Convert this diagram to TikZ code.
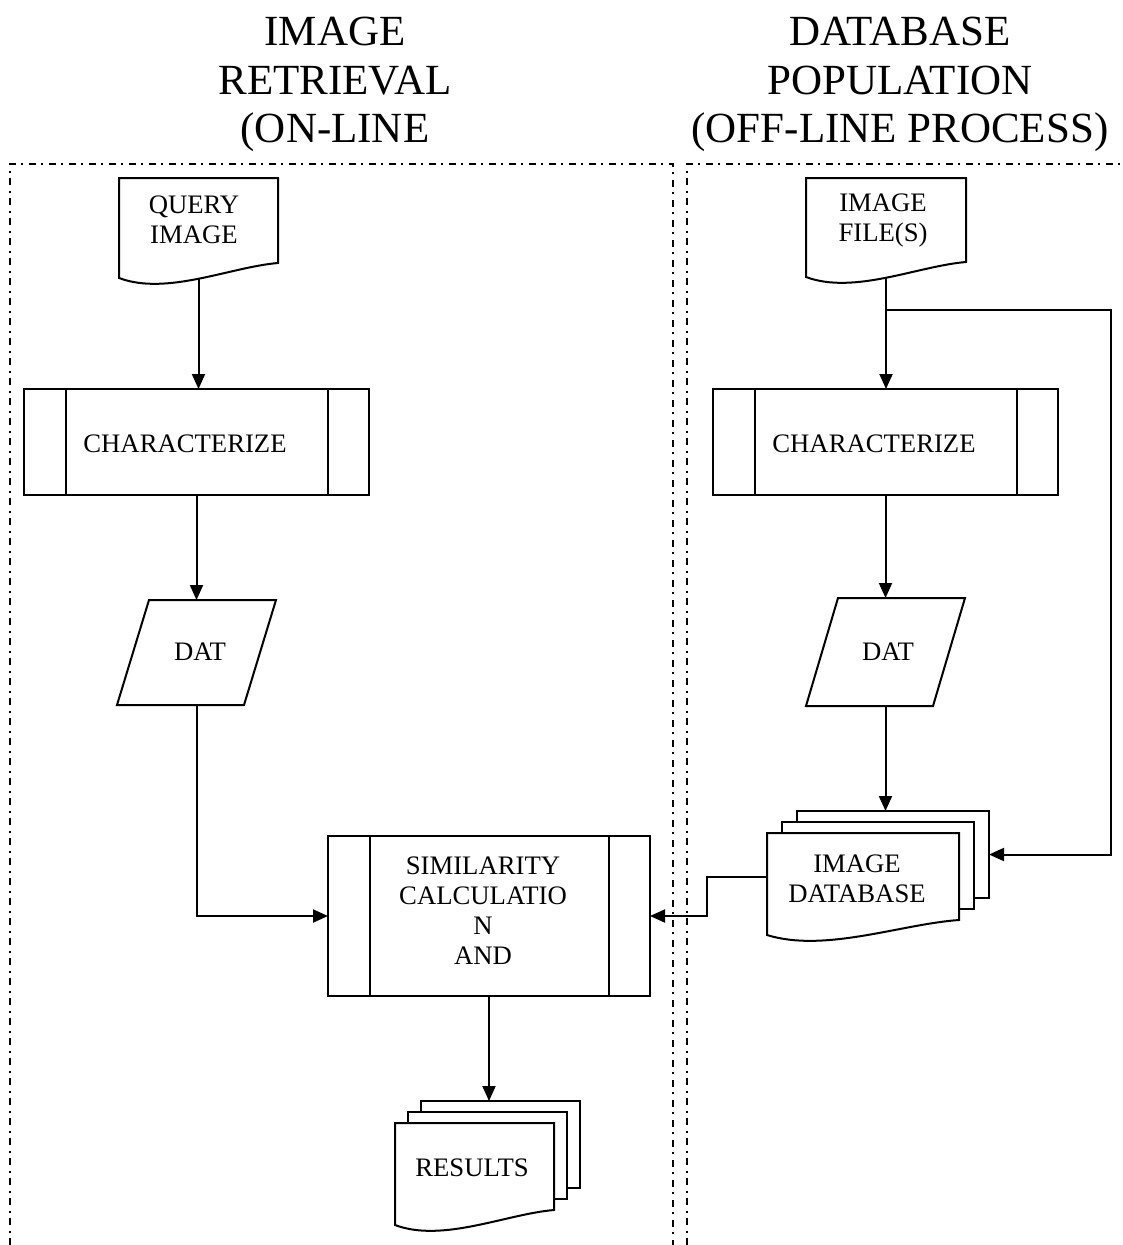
\documentclass[tikz,border=0pt]{standalone}
\usepackage{fontspec}
\setmainfont{Liberation Serif}
\usetikzlibrary{calc,arrows.meta}

\tikzset{
  flow/.style={line width=2pt},
  arr/.style={flow, -{Triangle[length=15pt,width=13pt]}},
  area/.style={line width=1.5pt, dash pattern=on 7pt off 5pt on 2pt off 6pt},
  small/.style={font=\fontsize{26.7}{30}\selectfont, align=center, inner sep=0pt},
  title/.style={font=\fontsize{43}{48.5}\selectfont, align=center, inner sep=0pt},
  frame/.style={inner sep=0pt, outer sep=0pt},
  procbox/.style={frame, draw, flow, fill=white},
  sheet/.style={frame, draw, flow, fill=white},
}

% document symbol: straight top and sides, wavy bottom edge
\newcommand\docoutline[1]{%
  \draw[flow, fill=white] (#1.north west) -- (#1.north east) -- (#1.south east)
    .. controls ($(#1.south west)!0.7!(#1.south east)+(0,4)$)
           and ($(#1.south west)!0.3!(#1.south east)+(0,33)$)
    .. ($(#1.south west)+(0,15)$) -- cycle;}
% predefined process: inner vertical bars
\newcommand\procbars[1]{%
  \draw[flow] ($(#1.north west)+(42,0)$) -- ($(#1.south west)+(42,0)$)
              ($(#1.north east)+(-41,0)$) -- ($(#1.south east)+(-41,0)$);}
% data symbol: parallelogram
\newcommand\slanted[1]{%
  \draw[flow] ($(#1.north west)+(32,0)$) -- (#1.north east)
    -- ($(#1.south east)+(-32,0)$) -- (#1.south west) -- cycle;}

\begin{document}
\begin{tikzpicture}[x=1pt,y=-1pt]
\useasboundingbox (0,0) rectangle (1122,1245);

% column headings
\node[title, anchor=north] (ttlL) at (335,17) {IMAGE\\RETRIEVAL\\(ON-LINE};
\node[title, anchor=north] (ttlR) at (900,17) {DATABASE\\POPULATION\\(OFF-LINE PROCESS)};

% lane frames
\draw[area] (10,1245) -- (10,164) -- (673,164) -- (673,1245);
\draw[area] (687,1245) -- (687,164) -- (1122,164);

% ---------- on-line lane ----------
\node[frame, minimum width=159, minimum height=85] (query) at (198.5,220.5) {};
\docoutline{query}
\node[small] (querytxt) at (194,220) {QUERY\\IMAGE};

\node[procbox, minimum width=345, minimum height=106] (charL) at (196.5,442) {};
\procbars{charL}
\node[small] (charLtxt) at (185,443.5) {CHARACTERIZE};

\node[frame, minimum width=159, minimum height=105] (datL) at (196.5,652.5) {};
\slanted{datL}
\node[small] (datLtxt) at (200,652) {DAT};

\node[procbox, minimum width=322, minimum height=160] (sim) at (489,916) {};
\procbars{sim}
\node[small] (simtxt) at (483,911) {SIMILARITY\\CALCULATIO\\N\\AND};

\node[sheet, minimum width=159, minimum height=87] (resback) at (500.5,1144.5) {};
\node[sheet, minimum width=159, minimum height=87] (resmid) at (487.5,1155.5) {};
\node[frame, minimum width=159, minimum height=87] (res) at (474.5,1166.5) {};
\docoutline{res}
\node[small] (restxt) at (472,1168) {RESULTS};

% ---------- off-line lane ----------
\node[frame, minimum width=160, minimum height=84] (files) at (886,220) {};
\docoutline{files}
\node[small] (filestxt) at (883,220) {IMAGE\\FILE(S)};

\node[procbox, minimum width=345, minimum height=106] (charR) at (885.5,442) {};
\procbars{charR}
\node[small] (charRtxt) at (874,443.5) {CHARACTERIZE};

\node[frame, minimum width=159, minimum height=108] (datR) at (885.5,652) {};
\slanted{datR}
\node[small] (datRtxt) at (888,652) {DAT};

\node[sheet, minimum width=192, minimum height=87] (dbback) at (893,854.5) {};
\node[sheet, minimum width=192, minimum height=87] (dbmid) at (878,865.5) {};
\node[frame, minimum width=192, minimum height=87] (db) at (863,876.5) {};
\docoutline{db}
\node[small] (dbtxt) at (857,879) {IMAGE\\DATABASE};

% ---------- connectors ----------
\draw[arr] ($(query.south)+(0,16)$) -- (query.south |- charL.north);
\draw[arr] (charL.south) -- (charL.south |- datL.north);
\draw[arr] (datL.south) |- (sim.west);
\draw[arr] (sim.south) -- (sim.south |- resback.north);

\coordinate (split) at ($(files.south)+(0,48)$);
\coordinate (turn) at (1111,310);
\draw[arr] ($(files.south)+(0,16)$) -- (files.south |- charR.north);
\draw[arr] (split) -- (turn) |- (dbback.east);
\draw[arr] (charR.south) -- (charR.south |- datR.north);
\draw[arr] (datR.south) -- (datR.south |- dbback.north);
\draw[arr] (db.west) -- ++(-60,0) |- (sim.east);
\end{tikzpicture}
\end{document}
